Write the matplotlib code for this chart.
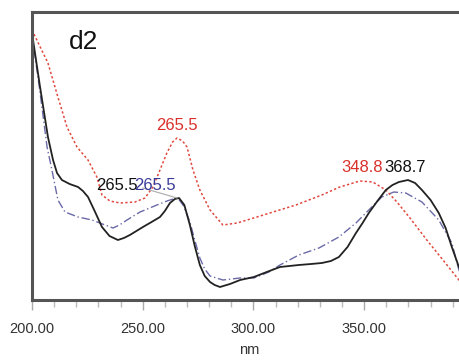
import matplotlib
matplotlib.use("Agg")
import matplotlib.pyplot as plt
import numpy as np

plt.rcParams['font.family'] = ['Liberation Sans', 'DejaVu Sans']

# espectros d2 (unidades arbitrarias)
nm_negro = [200, 203.5, 207.2, 209.5, 211.3, 213.5, 217, 220.8, 223, 225.3,
            228.5, 231.6, 235, 238.8, 241.5, 244.2, 250.1, 254, 257.8, 260,
            262.3, 264.5, 266.4, 268.8, 271.3, 273.5, 275.8, 278, 280.4, 282.5,
            284.9, 289.4, 294, 300.2, 306, 312, 320.5, 326, 330.9, 335,
            338.6, 342.5, 346.3, 349.3, 352.1, 356, 359.8, 362.8, 365.7, 369.8,
            373, 376.1, 380, 383.7, 386.8, 389.6, 392.8, 396]
abs_negro = [267, 215, 163, 140, 127, 120, 116, 113, 109, 103,
             88, 73, 64, 60, 62, 65, 73, 78, 83, 89,
             97, 101, 102, 95, 75, 54, 35, 24, 18, 15,
             13, 16, 20, 23, 28, 33, 35, 36, 37, 39,
             43, 53, 67, 77, 87, 99, 110, 115, 118, 120,
             117, 110, 100, 87, 72, 53, 33, 20]

nm_azul = [200, 203.5, 206.8, 209, 211.7, 214.9, 220.8, 227.1, 233, 236.6,
           239.5, 242.9, 248.8, 256.4, 261, 263.7, 265.9, 268.5, 271.3, 273.5,
           275.8, 278, 280.4, 286.2, 293.9, 300.2, 307, 312, 320.5, 329.6,
           338.6, 346.3, 352.1, 358, 363.4, 368.8, 376.1, 383.7, 389.6, 392.8,
           396]
abs_azul = [265, 210, 153, 130, 100, 88, 83, 80, 75, 72,
            75, 80, 88, 95, 99, 101, 102, 94, 78, 60,
            42, 31, 24, 20, 22, 22, 28, 35, 45, 52,
            63, 77, 90, 103, 108, 107, 98, 80, 57, 30,
            15]

nm_rojo = [200, 207.2, 211.7, 215.8, 220.3, 225.3, 229.3, 231.6, 235.2, 239.7,
           246.5, 251, 254.6, 257.8, 260.9, 263.5, 265.5, 268, 270, 272.7,
           275.8, 280.4, 286.2, 292.6, 301.6, 307.4, 319.2, 330.9, 339, 348.1,
           353.9, 359.8, 364.8, 370.7, 378.3, 385.6, 392.8, 396]
abs_rojo = [270, 237, 203, 173, 153, 140, 123, 105, 99, 97,
            98, 102, 113, 130, 147, 158, 162, 159, 153, 130,
            110, 90, 75, 77, 83, 87, 95, 105, 113, 119,
            118, 110, 98, 82, 60, 40, 20, 12]

# etiquetas de picos: (texto, x, y, color)
etiquetas = [("265.5", 265.5, 175, '#d9302a'),
             ("265.5", 238.4, 115, '#111111'),
             ("265.5", 255.5, 115, '#3a3a9a'),
             ("348.8", 349.0, 132, '#d9302a'),
             ("368.7", 368.4, 132, '#111111')]

fig = plt.figure(figsize=(4.59, 3.62), dpi=100)
ax = fig.add_axes([32/459, 62/362, 434/459, 288/362])

ax.plot(nm_rojo, abs_rojo, color='#e0483e', linestyle=(0, (1.5, 1.5)), linewidth=1.1)
ax.plot(nm_azul, abs_azul, color='#6a6aa8', linestyle=(0, (6, 2, 1, 2)), linewidth=1.0)
ax.plot(nm_negro, abs_negro, color='#222222', linewidth=1.3)

# linea guia gris de la etiqueta azul
ax.plot([250, 265.5], [112, 102], color='#aaaaaa', linewidth=0.8)

for texto, x, y, c in etiquetas:
    ax.text(x, y, texto, color=c, fontsize=12, ha='center', va='center')

ax.text(0.085, 0.87, "d2", transform=ax.transAxes, fontsize=19, color='#111111')

ax.set_xlim(200, 396)
ax.set_ylim(0, 288)
ax.set_xticks([200, 250, 300, 350])
ax.set_xticks(np.arange(210, 400, 10), minor=True)
ax.set_xticklabels(["200.00", "250.00", "300.00", "350.00"])
ax.set_yticks([])
ax.tick_params(axis='x', which='major', direction='out', length=7, width=1,
               color='#aaaaaa', labelcolor='#333333', labelsize=10.5, pad=9)
ax.tick_params(axis='x', which='minor', direction='out', length=5, width=1,
               color='#bbbbbb')
ax.set_xlabel("nm", fontsize=10.5, color='#333333', labelpad=5)

for lado in ['left', 'bottom', 'top']:
    ax.spines[lado].set_color('#555555')
    ax.spines[lado].set_linewidth(2.2)
ax.spines['right'].set_visible(False)

fig.savefig("out.png", dpi=100)
